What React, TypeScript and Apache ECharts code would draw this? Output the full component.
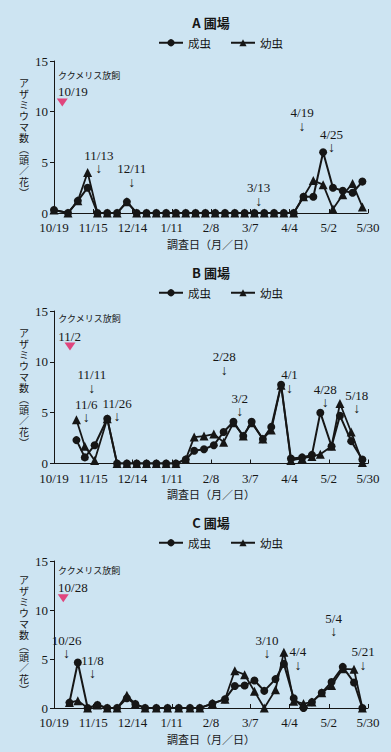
import React, { useEffect, useRef } from 'react';
import * as echarts from 'echarts';

// x axis: days since 10/19, ticks every 28 days
const tickLabels = ['10/19', '11/15', '12/14', '1/11', '2/8', '3/7', '4/4', '5/2', '5/30'];
const seriesNames = ['成虫', '幼虫'];
const titles = ['A 圃場', 'B 圃場', 'C 圃場'];
const releaseLabel = 'ククメリス放飼';
const releaseDates = ['10/19', '11/2', '10/28'];

// Panel A
const daysA = [0, 10, 17, 24, 31, 38, 45, 52, 59, 66, 73, 80, 87, 94, 101, 108, 115, 122, 129, 136, 143, 150, 157, 164, 171, 178, 185, 192, 199, 206, 213, 220];
const adultA = [0.3, 0, 1.2, 2.5, 0, 0, 0, 1.1, 0, 0, 0, 0, 0, 0, 0, 0, 0, 0, 0, 0, 0, 0, 0, 0, 0, 1.6, 1.6, 6.0, 2.5, 2.2, 2.0, 3.1];
const larvaA = [0.3, 0, 1.2, 4.0, 0, 0, 0, 1.1, 0, 0, 0, 0, 0, 0, 0, 0, 0, 0, 0, 0, 0, 0, 0, 0, 0, 1.6, 3.2, 2.8, 0.4, 1.8, 2.9, 0.6];

// Panel B
const daysB = [16, 22, 29, 38, 45, 52, 59, 66, 73, 80, 87, 94, 100, 107, 114, 121, 128, 135, 141, 149, 155, 162, 169, 177, 184, 190, 198, 204, 212, 220];
const adultB = [2.3, 0.6, 1.8, 4.4, 0, 0, 0, 0, 0, 0, 0, 0.4, 1.25, 1.4, 1.8, 3.1, 4.1, 2.7, 4.1, 2.4, 3.6, 7.75, 0.5, 0.6, 0.85, 5.0, 1.7, 4.7, 2.2, 0.4];
const larvaB = [4.3, 1.7, 0.3, 4.4, 0, 0, 0, 0, 0, 0, 0, 0.4, 2.6, 2.7, 2.9, 2.1, 4.0, 2.7, 4.0, 2.4, 3.3, 7.7, 0.3, 0.5, 0.7, 0.9, 1.7, 5.9, 3.1, 0.1];

// Panel C
const daysC = [11, 17, 24, 31, 38, 45, 52, 58, 65, 73, 81, 89, 97, 104, 113, 122, 129, 136, 143, 150, 158, 164, 171, 178, 184, 191, 198, 206, 214, 220];
const adultC = [0.55, 4.65, 0, 0.3, 0, 0, 1.0, 0.4, 0, 0, 0, 0, 0, 0, 0.45, 0.9, 2.25, 2.3, 2.8, 1.75, 2.95, 4.5, 1.0, 0, 0.6, 1.55, 2.65, 4.2, 2.6, 0];
const larvaC = [0.55, 0.75, 0, 0.3, 0, 0, 1.3, 0.4, 0, 0, 0, 0, 0, 0, 0.45, 0.9, 3.8, 3.4, 1.7, 0, 1.85, 5.7, 0.7, 0.45, 0.6, 1.55, 2.3, 4.0, 3.95, 0];

// arrow notes: [date text, day, height of arrow tip]
const notesA: [string, number, number][] = [['11/13', 32, 4.1], ['12/11', 55.5, 2.8], ['3/13', 146, 0.9], ['4/19', 177, 8.3], ['4/25', 198, 6.2]];
const notesB: [string, number, number][] = [['11/11', 27, 7.15], ['11/6', 23, 4.25], ['11/26', 45, 4.35], ['2/28', 121.5, 8.95], ['3/2', 132.5, 4.85], ['4/1', 168, 7.15], ['4/28', 193.5, 5.75], ['5/18', 216, 5.15]];
const notesC: [string, number, number][] = [['10/26', 9, 5.3], ['11/8', 27.5, 3.25], ['3/10', 152, 5.3], ['4/4', 174, 4.1], ['5/4', 199.5, 7.55], ['5/21', 220.5, 4.1]];

const SERIF = '"Liberation Serif", "Noto Sans CJK JP", serif';
const CJK = '"Noto Sans CJK JP", sans-serif';
const INK = '#161616';
const PINK = '#e0457d';
const BG = '#cde4f2';

const panels = [
  { top: 61, height: 152, days: daysA, adult: adultA, larva: larvaA, notes: notesA, rel: { textDay: 2.9, labelV: 13.6, dateV: 12.0, triDay: 5.9, triV: 10.9 } },
  { top: 311, height: 152.5, days: daysB, adult: adultB, larva: larvaB, notes: notesB, rel: { textDay: 3.1, labelV: 14.3, dateV: 12.5, triDay: 11.4, triV: 11.5 } },
  { top: 561, height: 147, days: daysC, adult: adultC, larva: larvaC, notes: notesC, rel: { textDay: 2.9, labelV: 14.0, dateV: 12.3, triDay: 6.6, triV: 11.2 } },
];

const yName = ['ア', 'ザ', 'ミ', 'ウ', 'マ', '数', '︵', '頭', '／', '花', '︶'].join('\n');

function textPoint(coord: number[], label: any) {
  return {
    coord, symbol: 'circle', symbolSize: 0,
    itemStyle: { color: INK },
    label: { show: true, color: INK, ...label },
  };
}

function buildOption() {
  const grid: any[] = [];
  const xAxis: any[] = [];
  const yAxis: any[] = [];
  const series: any[] = [];
  const title: any[] = [];
  const legend: any[] = [];

  panels.forEach((p, i) => {
    grid.push({ left: 54, right: 23, top: p.top, height: p.height });
    xAxis.push({
      type: 'value', gridIndex: i, min: 0, max: 224, interval: 28,
      axisLine: { show: true, lineStyle: { color: INK, width: 1 } },
      axisTick: { show: true, inside: true, length: 4, lineStyle: { color: INK } },
      axisLabel: {
        formatter: (v: number) => tickLabels[Math.round(v / 28)] ?? '',
        fontFamily: SERIF, fontSize: 13, color: INK, margin: 8,
      },
      splitLine: { show: false },
      name: '調査日（月／日）', nameLocation: 'middle', nameGap: 25,
      nameTextStyle: { fontFamily: CJK, fontSize: 11, color: INK },
    });
    yAxis.push({
      type: 'value', gridIndex: i, min: 0, max: 15, interval: 5,
      axisLine: { show: true, lineStyle: { color: INK, width: 1 } },
      axisTick: { show: true, length: 4, lineStyle: { color: INK } },
      axisLabel: { fontFamily: SERIF, fontSize: 13, color: INK, margin: 6 },
      splitLine: { show: false },
      name: yName, nameLocation: 'middle', nameRotate: 0, nameGap: 29,
      nameTextStyle: { fontFamily: CJK, fontSize: 10, lineHeight: 11, color: INK, align: 'center', verticalAlign: 'middle' },
    });
    title.push({
      text: titles[i], left: 211, top: p.top - 45, padding: 0, textAlign: 'center',
      textStyle: { fontFamily: CJK, fontSize: 13, fontWeight: 'bold', color: INK },
    });
    legend.push({
      data: seriesNames, left: 158, top: p.top - 24, padding: 0,
      itemWidth: 24, itemHeight: 9, itemGap: 19,
      textStyle: { fontFamily: CJK, fontSize: 11.5, color: INK },
    });

    const noteItems = p.notes.map(([t, d, v]) => textPoint([d, v], {
      position: 'top', distance: 0, offset: [0, 4],
      formatter: () => `{dt|${t}}\n{ar|↓}`,
      rich: {
        dt: { fontFamily: SERIF, fontSize: 13, lineHeight: 14, color: INK, align: 'center' },
        ar: { fontFamily: SERIF, fontSize: 14, lineHeight: 13, color: INK, align: 'center' },
      },
    }));
    const r = p.rel;
    const relItems = [
      textPoint([r.textDay, r.labelV], { position: 'right', distance: 0, formatter: () => releaseLabel, fontFamily: CJK, fontSize: 9 }),
      textPoint([r.textDay, r.dateV], { position: 'right', distance: 0, formatter: () => releaseDates[i], fontFamily: SERIF, fontSize: 13 }),
      {
        coord: [r.triDay, r.triV], symbol: 'triangle', symbolRotate: 180, symbolSize: [11, 8],
        itemStyle: { color: PINK }, label: { show: false },
      },
    ];

    series.push({
      type: 'line', name: seriesNames[0], xAxisIndex: i, yAxisIndex: i,
      data: p.days.map((d, k) => [d, p.adult[k]]),
      symbol: 'circle', symbolSize: 8,
      lineStyle: { color: INK, width: 2 }, itemStyle: { color: INK },
      z: 3,
      markPoint: { silent: true, label: { color: INK }, itemStyle: { color: INK }, data: [...noteItems, ...relItems] },
    });
    series.push({
      type: 'line', name: seriesNames[1], xAxisIndex: i, yAxisIndex: i,
      data: p.days.map((d, k) => [d, p.larva[k]]),
      symbol: 'triangle', symbolSize: 9,
      lineStyle: { color: INK, width: 1.8 }, itemStyle: { color: INK },
      z: 2,
    });
  });

  return {
    animation: false,
    backgroundColor: BG,
    title, legend, grid, xAxis, yAxis, series,
  };
}

export default function App() {
  const ref = useRef<HTMLDivElement>(null);
  useEffect(() => {
    document.body.style.margin = '0';
    document.body.style.background = BG;
    const chart = echarts.init(ref.current!, null, { renderer: 'svg' });
    chart.setOption(buildOption() as any);
    return () => chart.dispose();
  }, []);
  return <div ref={ref} style={{ position: 'fixed', left: 0, top: 0, width: 391, height: 752 }} />;
}
